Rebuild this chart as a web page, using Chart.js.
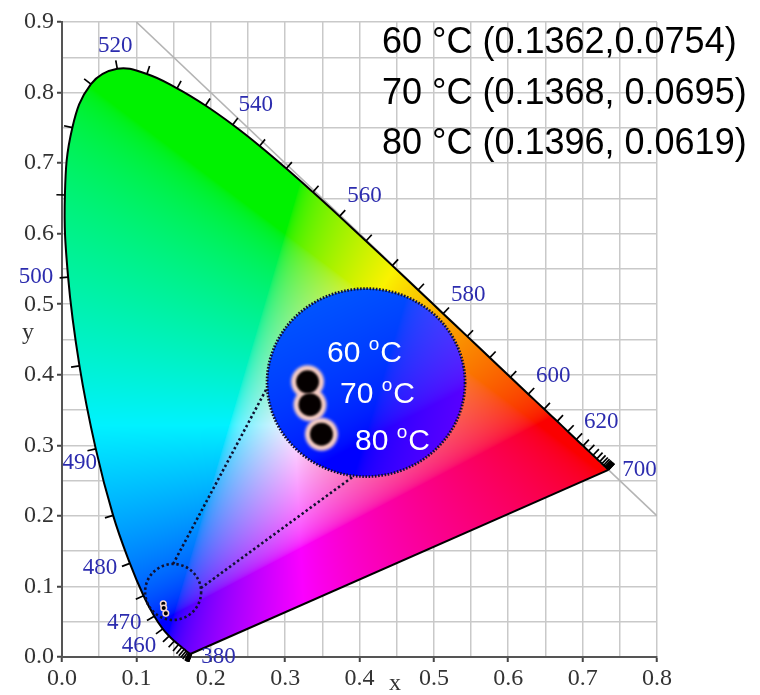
<!DOCTYPE html>
<html>
<head>
<meta charset="utf-8">
<script src="https://cdn.jsdelivr.net/npm/chart.js@4.4.1/dist/chart.umd.min.js"></script>
<style>
  html, body { margin: 0; padding: 0; background: #fff; }
  #wrap { width: 760px; height: 695px; }
</style>
</head>
<body>
<div id="wrap"><canvas id="cie" width="760" height="695"></canvas></div>
<script>
// CIE 1931 spectral locus, 5 nm steps
const wavelengths = [380, 385, 390, 395, 400, 405, 410, 415, 420, 425, 430, 435, 440, 445, 450, 455,
  460, 465, 470, 475, 480, 485, 490, 495, 500, 505, 510, 515, 520, 525, 530, 535, 540, 545, 550, 555,
  560, 565, 570, 575, 580, 585, 590, 595, 600, 605, 610, 615, 620, 625, 630, 635, 640, 645, 650, 655,
  660, 665, 670, 675, 680, 685, 690, 695, 700]
const locusX = [0.1741, 0.1740, 0.1738, 0.1736, 0.1733, 0.1730, 0.1726, 0.1721, 0.1714, 0.1703, 0.1689,
  0.1669, 0.1644, 0.1611, 0.1566, 0.1510, 0.1440, 0.1355, 0.1241, 0.1096, 0.0913, 0.0687, 0.0454, 0.0235,
  0.0082, 0.0039, 0.0139, 0.0389, 0.0743, 0.1142, 0.1547, 0.1929, 0.2296, 0.2658, 0.3016, 0.3373, 0.3731,
  0.4087, 0.4441, 0.4788, 0.5125, 0.5448, 0.5752, 0.6029, 0.6270, 0.6482, 0.6658, 0.6801, 0.6915, 0.7006,
  0.7079, 0.7140, 0.7190, 0.7230, 0.7260, 0.7283, 0.7300, 0.7311, 0.7320, 0.7327, 0.7334, 0.7340, 0.7344,
  0.7346, 0.7347]
const locusY = [0.0050, 0.0050, 0.0049, 0.0049, 0.0048, 0.0048, 0.0048, 0.0048, 0.0051, 0.0058, 0.0069,
  0.0086, 0.0109, 0.0138, 0.0177, 0.0227, 0.0297, 0.0399, 0.0578, 0.0868, 0.1327, 0.2007, 0.2950, 0.4127,
  0.5384, 0.6548, 0.7502, 0.8120, 0.8338, 0.8262, 0.8059, 0.7816, 0.7543, 0.7243, 0.6923, 0.6589, 0.6245,
  0.5896, 0.5547, 0.5202, 0.4866, 0.4544, 0.4242, 0.3965, 0.3725, 0.3514, 0.3340, 0.3197, 0.3083, 0.2993,
  0.2920, 0.2859, 0.2809, 0.2770, 0.2740, 0.2717, 0.2700, 0.2689, 0.2680, 0.2673, 0.2666, 0.2660, 0.2656,
  0.2654, 0.2653]
const labelledWavelengths = [380, 460, 470, 480, 490, 500, 520, 540, 560, 580, 600, 620, 700]

// x + y = 1 guide line
const guideX = [0.1, 0.8]
const guideY = [0.9, 0.2]

// measured colour points
const temps = [60, 70, 80]
const sampleX = [0.1362, 0.1368, 0.1396]
const sampleY = [0.0754, 0.0695, 0.0619]

const xLabels = ['0.0', '0.1', '0.2', '0.3', '0.4', '0.5', '0.6', '0.7', '0.8']
const yLabels = ['0.0', '0.1', '0.2', '0.3', '0.4', '0.5', '0.6', '0.7', '0.8', '0.9']

// where each wavelength label sits, relative to its locus point (px)
const waveLabelOffset = {
  380: [27, 3], 460: [-30, 10], 470: [-30, 7], 480: [-30, 5], 490: [-16, 14], 500: [-32, 0],
  520: [-2, -23], 540: [23, -20], 560: [25, -20], 580: [25, -19], 600: [25, -18], 620: [25, -18], 700: [31, 0]
}

// small lens and magnified inset
const lensCentre = { x: 0.1494, y: 0.0922 }
const lensRadius = 28
const zoomFocus = { x: 0.1505, y: 0.0752 }
const zoomFactor = 5.5
const insetCentre = { x: 0.4088, y: 0.3889 }
const insetRx = 99
const insetRy = 94

const serif = '"Liberation Serif", "Times New Roman", serif'
const sans = '"Liberation Sans", Arial, sans-serif'

function gammaEncode(v) {
  v = Math.max(0, Math.min(1, v))
  return v <= 0.0031308 ? 12.92 * v : 1.055 * Math.pow(v, 1 / 2.4) - 0.055
}

// chromaticity -> displayable rgb (negatives clipped, brightest channel = 1)
function chromaToRgb(x, y) {
  if (y <= 0.0005) return null
  const X = x / y
  const Z = (1 - x - y) / y
  let r = 3.2406 * X - 1.5372 - 0.4986 * Z
  let g = -0.9689 * X + 1.8758 + 0.0415 * Z
  let b = 0.0557 * X - 0.2040 + 1.0570 * Z
  r = Math.max(r, 0); g = Math.max(g, 0); b = Math.max(b, 0)
  const hi = Math.max(r, g, b)
  if (hi <= 0) return null
  return [gammaEncode(r / hi) * 250, gammaEncode(g / hi) * 242, gammaEncode(b / hi) * 255]
}

const gamutPlugin = {
  id: 'gamut',
  beforeDatasetsDraw(chart) {
    const { ctx, chartArea: a, scales: { x, y } } = chart
    const w = Math.round(a.right - a.left)
    const h = Math.round(a.bottom - a.top)
    const off = document.createElement('canvas')
    off.width = w
    off.height = h
    const octx = off.getContext('2d')
    const img = octx.createImageData(w, h)
    for (let j = 0; j < h; j++) {
      const cy = y.getValueForPixel(a.top + j + 0.5)
      for (let i = 0; i < w; i++) {
        const c = chromaToRgb(x.getValueForPixel(a.left + i + 0.5), cy)
        if (!c) continue
        const k = (j * w + i) * 4
        img.data[k] = c[0]
        img.data[k + 1] = c[1]
        img.data[k + 2] = c[2]
        img.data[k + 3] = 255
      }
    }
    octx.putImageData(img, 0, 0)

    const line = chart.getDatasetMeta(0).dataset
    line.updateControlPoints(a, 'x')
    ctx.save()
    ctx.beginPath()
    line.path(ctx)
    ctx.closePath()
    ctx.clip()
    ctx.drawImage(off, a.left, a.top)
    ctx.restore()
  }
}

const wavePlugin = {
  id: 'waveTicks',
  afterDatasetsDraw(chart) {
    const { ctx, scales: { x, y } } = chart
    const pts = chart.getDatasetMeta(0).data
    const wx = x.getPixelForValue(0.3333)
    const wy = y.getPixelForValue(0.3333)
    ctx.save()
    ctx.strokeStyle = '#000'
    ctx.lineWidth = 1.7
    pts.forEach((p, i) => {
      let lo = i, hi = i
      while (lo > 0 && Math.hypot(pts[lo].x - p.x, pts[lo].y - p.y) < 3) lo--
      while (hi < pts.length - 1 && Math.hypot(pts[hi].x - p.x, pts[hi].y - p.y) < 3) hi++
      const tx = pts[hi].x - pts[lo].x
      const ty = pts[hi].y - pts[lo].y
      const len = Math.hypot(tx, ty) || 1
      let nx = -ty / len, ny = tx / len
      if (nx * (p.x - wx) + ny * (p.y - wy) < 0) { nx = -nx; ny = -ny }
      ctx.beginPath()
      ctx.moveTo(p.x, p.y)
      ctx.lineTo(p.x + nx * 8.5, p.y + ny * 8.5)
      ctx.stroke()
    })
    ctx.fillStyle = '#2c2cae'
    ctx.font = '23px ' + serif
    ctx.textAlign = 'center'
    ctx.textBaseline = 'middle'
    labelledWavelengths.forEach(wl => {
      const p = pts[wavelengths.indexOf(wl)]
      const off = waveLabelOffset[wl]
      ctx.fillText(String(wl), p.x + off[0], p.y + off[1])
    })
    ctx.restore()
  }
}

function drawTempLabel(ctx, temp, x0, y0) {
  ctx.font = '30px ' + sans
  const s = temp + ' '
  ctx.fillText(s, x0, y0)
  let xx = x0 + ctx.measureText(s).width
  ctx.font = '19px ' + sans
  ctx.fillText('o', xx, y0 - 11.5)
  xx += ctx.measureText('o').width + 1
  ctx.font = '30px ' + sans
  ctx.fillText('C', xx, y0)
}

const insetPlugin = {
  id: 'inset',
  afterDatasetsDraw(chart) {
    const { ctx, scales: { x, y } } = chart
    const lc = { x: x.getPixelForValue(lensCentre.x), y: y.getPixelForValue(lensCentre.y) }
    const ic = { x: x.getPixelForValue(insetCentre.x), y: y.getPixelForValue(insetCentre.y) }
    const fc = { x: x.getPixelForValue(zoomFocus.x), y: y.getPixelForValue(zoomFocus.y) }

    ctx.save()
    // connectors
    ctx.strokeStyle = '#101030'
    ctx.lineWidth = 2.6
    ctx.setLineDash([2.4, 2.6])
    const joins = [[-90, 177], [-8, 97]]
    joins.forEach(([a1, a2]) => {
      const r1 = a1 * Math.PI / 180, r2 = a2 * Math.PI / 180
      ctx.beginPath()
      ctx.moveTo(lc.x + lensRadius * Math.cos(r1), lc.y + lensRadius * Math.sin(r1))
      ctx.lineTo(ic.x + insetRx * Math.cos(r2), ic.y + insetRy * Math.sin(r2))
      ctx.stroke()
    })
    // lens circle
    ctx.beginPath()
    ctx.arc(lc.x, lc.y, lensRadius, 0, Math.PI * 2)
    ctx.stroke()
    ctx.setLineDash([])

    // magnified colours inside the inset
    const w = insetRx * 2 + 2, h = insetRy * 2 + 2
    const left = Math.floor(ic.x - insetRx - 1), top = Math.floor(ic.y - insetRy - 1)
    const off = document.createElement('canvas')
    off.width = w
    off.height = h
    const octx = off.getContext('2d')
    const img = octx.createImageData(w, h)
    for (let j = 0; j < h; j++) {
      const py = fc.y + (top + j + 0.5 - ic.y) / zoomFactor
      const cy = y.getValueForPixel(py)
      for (let i = 0; i < w; i++) {
        const px = fc.x + (left + i + 0.5 - ic.x) / zoomFactor
        const c = chromaToRgb(x.getValueForPixel(px), cy)
        if (!c) continue
        const k = (j * w + i) * 4
        img.data[k] = c[0]
        img.data[k + 1] = c[1]
        img.data[k + 2] = c[2]
        img.data[k + 3] = 255
      }
    }
    octx.putImageData(img, 0, 0)
    ctx.save()
    ctx.beginPath()
    ctx.ellipse(ic.x, ic.y, insetRx, insetRy, 0, 0, Math.PI * 2)
    ctx.clip()
    ctx.drawImage(off, left, top)

    // magnified points: pink halo then black core
    const mags = sampleX.map((sx, i) => [
      ic.x + (x.getPixelForValue(sx) - fc.x) * zoomFactor,
      ic.y + (y.getPixelForValue(sampleY[i]) - fc.y) * zoomFactor
    ])
    ctx.filter = 'blur(1.5px)'
    ctx.fillStyle = '#f6cdc4'
    mags.forEach(([mx, my]) => {
      ctx.beginPath()
      ctx.arc(mx, my, 16.5, 0, Math.PI * 2)
      ctx.fill()
    })
    ctx.filter = 'blur(1px)'
    ctx.fillStyle = '#050000'
    mags.forEach(([mx, my]) => {
      ctx.beginPath()
      ctx.arc(mx, my, 11.5, 0, Math.PI * 2)
      ctx.fill()
    })
    ctx.filter = 'none'
    ctx.restore()

    // inset border
    ctx.strokeStyle = '#101030'
    ctx.lineWidth = 2.8
    ctx.setLineDash([1.6, 1.6])
    ctx.beginPath()
    ctx.ellipse(ic.x, ic.y, insetRx, insetRy, 0, 0, Math.PI * 2)
    ctx.stroke()
    ctx.setLineDash([])

    // temperature labels
    ctx.fillStyle = '#fff'
    ctx.textBaseline = 'alphabetic'
    const textPos = [[-39, -21], [-26, 20], [-11, 67]]
    temps.forEach((t, i) => drawTempLabel(ctx, t, ic.x + textPos[i][0], ic.y + textPos[i][1]))
    ctx.restore()
  }
}

const annotatePlugin = {
  id: 'annotate',
  afterDraw(chart) {
    const { ctx } = chart
    ctx.save()
    // coordinate list top right
    ctx.fillStyle = '#000'
    ctx.font = '36px ' + sans
    ctx.textBaseline = 'alphabetic'
    temps.forEach((t, i) => {
      const txt = `${t} °C (${sampleX[i].toFixed(4)},${i ? ' ' : ''}${sampleY[i].toFixed(4)})`
      ctx.fillText(txt, 382, 53 + i * 50.5)
    })
    // axis titles
    ctx.fillStyle = '#333'
    ctx.font = '24px ' + serif
    ctx.textAlign = 'center'
    ctx.textBaseline = 'middle'
    ctx.fillText('x', 395, 684)
    ctx.fillText('y', 28, 333)
    ctx.restore()
  }
}

const tickColour = c => (Math.round(c.tick.value * 20) % 2 === 0 ? '#444' : 'rgba(0,0,0,0)')

const ctx = document.getElementById('cie').getContext('2d')
const cieChart = new Chart(ctx, {
  type: 'line',
  data: {
    datasets: [
      {
        label: 'spectral locus',
        data: wavelengths.map((w, i) => ({ x: locusX[i], y: locusY[i] })),
        borderColor: '#000',
        borderWidth: 2,
        pointRadius: 0,
        tension: 0.4,
        fill: false,
        order: 2
      },
      {
        label: 'line of purples',
        data: [0, wavelengths.length - 1].map(i => ({ x: locusX[i], y: locusY[i] })),
        borderColor: '#000',
        borderWidth: 2,
        pointRadius: 0,
        fill: false,
        order: 2
      },
      {
        label: 'x + y = 1',
        data: guideX.map((v, i) => ({ x: v, y: guideY[i] })),
        borderColor: '#b4b4b4',
        borderWidth: 1.6,
        pointRadius: 0,
        fill: false,
        order: 3
      },
      {
        label: 'samples',
        data: sampleX.map((v, i) => ({ x: v, y: sampleY[i] })),
        showLine: false,
        pointRadius: 2.8,
        pointBackgroundColor: '#000',
        pointBorderColor: '#f4d8d0',
        pointBorderWidth: 1.5,
        order: 0
      }
    ]
  },
  options: {
    responsive: false,
    animation: false,
    events: [],
    layout: { padding: { left: 0, right: 103, top: 22, bottom: 0 } },
    plugins: { legend: { display: false }, tooltip: { enabled: false } },
    scales: {
      x: {
        type: 'linear',
        min: 0,
        max: 0.8,
        afterFit: s => { s.height = 38 },
        ticks: {
          stepSize: 0.05,
          autoSkip: false,
          maxRotation: 0,
          padding: 2,
          color: '#333',
          font: { family: serif, size: 24 },
          callback: v => {
            const k = Math.round(v * 20)
            return k % 2 === 0 ? xLabels[k / 2] : ''
          }
        },
        grid: { color: '#c9c9c9', lineWidth: 1.5, tickLength: 5, tickColor: tickColour, tickWidth: 2 },
        border: { color: '#555', width: 2 }
      },
      y: {
        type: 'linear',
        min: 0,
        max: 0.9,
        afterFit: s => { s.width = 62 },
        ticks: {
          stepSize: 0.05,
          autoSkip: false,
          padding: 3,
          color: '#333',
          font: { family: serif, size: 24 },
          callback: v => {
            const k = Math.round(v * 20)
            return k % 2 === 0 ? yLabels[k / 2] : ''
          }
        },
        grid: { color: '#c9c9c9', lineWidth: 1.5, tickLength: 5, tickColor: tickColour, tickWidth: 2 },
        border: { color: '#555', width: 2 }
      }
    }
  },
  plugins: [gamutPlugin, wavePlugin, insetPlugin, annotatePlugin]
})
</script>
</body>
</html>
